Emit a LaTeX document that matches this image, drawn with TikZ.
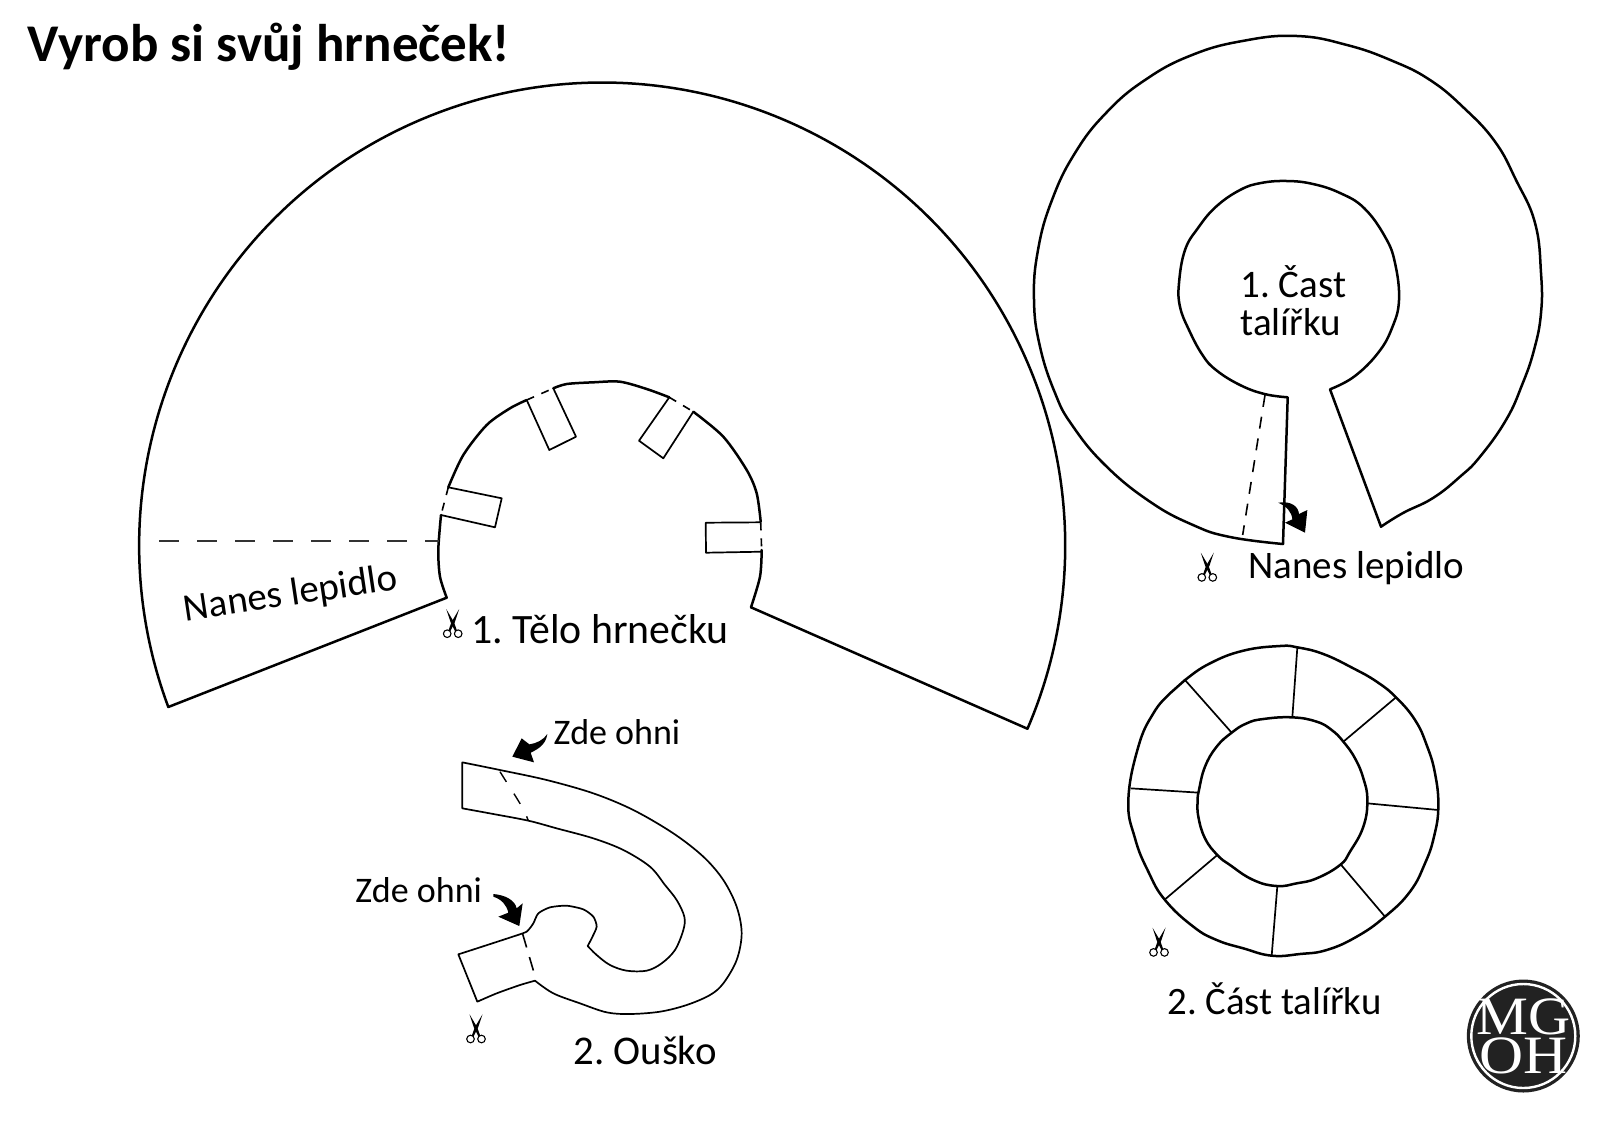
\documentclass[tikz,border=0pt]{standalone}
\usepackage{fontspec}
\usepackage{graphicx}
\setmainfont{Carlito}
\newfontfamily\logofont{Liberation Serif}
\definecolor{logodark}{HTML}{222222}
\frenchspacing
\tikzset{
  outline/.style={line width=1.25pt,line join=round,line cap=round,black},
  thinline/.style={line width=.85pt,line join=round,black},
  earline/.style={line width=.85pt,line join=round,black},
  foldline/.style={line width=.8pt,dash pattern=on 6pt off 5pt,black},
  gapline/.style={line width=.8pt,dash pattern=on 4pt off 4pt,black},
  bigtxt/.style={anchor=base west,inner sep=0pt,font=\fontsize{19.5}{23}\selectfont},
  smalltxt/.style={anchor=base west,inner sep=0pt,font=\fontsize{18}{22}\selectfont},
  zoomed/.style={shift={#1},scale=0.33333},
  scis/.pic={
    \draw[line width=.55pt] (-5.5,-10.7) circle[radius=3.8] (5.5,-10.7) circle[radius=3.8];
    \fill (-4.2,-7.4) -- (-2.4,-8.2) -- (2.2,1) -- (6.5,14) -- (-1.2,1) -- cycle;
    \fill (4.2,-7.4) -- (2.4,-8.2) -- (-2.2,1) -- (-6.5,14) -- (1.2,1) -- cycle;
  }
}
\begin{document}
\begin{tikzpicture}[x=0.5pt,y=0.5pt,yscale=-1]
\useasboundingbox[fill=white] (0,0) rectangle (1600,1131);

\node[anchor=base west,inner sep=0pt,font=\fontsize{26.5}{30}\selectfont\bfseries] (title) at (27.5,61) {Vyrob si svůj hrneček!};

% ---- body of the mug
\draw[outline] (446.7,597.7) -- (168.3,707) arc[start angle=159.6,end angle=383.3,radius=463] -- (751,607.3);
\draw[outline] plot[smooth,tension=.5] coordinates {(446.7,597.7) (440,576.7) (438.3,550) (441,515)};
\draw[outline] plot[smooth,tension=.5] coordinates {(448.3,487.3) (463.3,455) (486.7,425) (510,408.3) (526.7,400)};
\draw[outline] plot[smooth,tension=.5] coordinates {(553.3,388.3) (566.7,384) (593.3,382.3) (620,381.7) (646.7,389) (669.3,397.3)};
\draw[outline] plot[smooth,tension=.5] coordinates {(693.3,411.7) (723.3,436.7) (746.7,470) (756.7,493.3) (760.7,521.7)};
\draw[outline] plot[smooth,tension=.5] coordinates {(761.7,550) (760,576.7) (751,607.3)};
\draw[thinline] (448.3,487.3) -- (501.7,498.3) -- (495,527.3) -- (441,515);
\draw[thinline] (526.7,400) -- (549.3,450) -- (576,436.7) -- (553.3,388.3);
\draw[thinline] (669.3,397.3) -- (639,440.7) -- (663.3,458.3) -- (693.3,411.7);
\draw[thinline] (760.7,522.3) -- (705.7,522.7) -- (706,552.7) -- (761.7,551.7);
\draw[gapline] (448.3,487.3) -- (441,515);
\draw[gapline] (526.7,400) -- (553.3,388.3);
\draw[gapline] (669.3,397.3) -- (693.3,411.7);
\draw[gapline] (760.7,522.3) -- (761.7,551.7);
\draw[line width=.8pt,dash pattern=on 10pt off 9pt,black!80] (159,541) -- (438.5,541);
\node[inner sep=0pt,font=\fontsize{19.5}{23}\selectfont,rotate=8.5] (glue1) at (290.7,595) {Nanes lepidlo};
\node[bigtxt,font=\fontsize{20.9}{24}\selectfont] (body) at (471,643.5) {1. Tělo hrnečku};
\pic at (452.7,623) {scis};

% ---- ear
\begin{scope}[zoomed={(340,710)}]
\draw[earline] (367,157) -- plot[smooth,tension=.55] coordinates {(367,157) (480,180) (620,210) (760,250) (880,300) (1000,370) (1090,440) (1150,510) (1190,590) (1205,670) (1190,750) (1150,820) (1110,855) (1040,885) (960,905) (870,912) (800,907) (720,880) (640,850) (585,812)}
 -- plot[smooth,tension=.4] coordinates {(585,812) (540,825) (470,850) (412,875)}
 -- (355,733)
 -- plot[smooth,tension=.4] coordinates {(355,733) (420,712) (548,670) (565,660) (580,640) (595,610) (630,592) (680,587) (730,598) (760,620) (770,650) (755,685) (743,708)}
 -- plot[smooth,tension=.55] coordinates {(743,708) (770,735) (810,765) (860,782) (920,782) (965,760) (1005,720) (1030,660) (1033,620) (1010,570) (975,525) (930,470) (850,420) (760,385) (650,355) (565,332) (460,312) (367,295)} -- cycle;
\draw[line width=.7pt,dash pattern=on 6pt off 7pt] (480,185) .. controls (520,250) and (550,290) .. (565,332);
\draw[line width=.8pt,dash pattern=on 7pt off 5pt] (548,672) -- (587,805);
\fill (622,72) .. controls (610,90) and (590,100) .. (568,103) -- (545,85) -- (517,140) -- (582,157) -- (572,128) .. controls (600,115) and (618,100) .. (622,72) -- cycle;
\fill (460,552) .. controls (495,555) and (525,570) .. (530,595) -- (548,580) -- (538,648) -- (475,620) -- (505,608) .. controls (500,585) and (485,568) .. (460,560) -- cycle;
\end{scope}
\node[smalltxt] (fold1) at (553.3,744) {Zde ohni};
\node[smalltxt] (fold2) at (355,902.5) {Zde ohni};
\node[bigtxt,font=\fontsize{20.4}{24}\selectfont] (ear) at (573,1064) {2. Ouško};
\pic at (476,1028.3) {scis};

% ---- plate part 1
\draw[outline] (1381,526.7) -- plot[smooth,tension=.75] coordinates {(1381,526.7) (1403,513) (1433,498) (1460,476.7) (1480,456.7) (1506,420) (1522,385) (1534,350) (1541,313) (1541,273) (1535,223) (1516,180) (1495,141.7) (1464,108) (1430,80) (1392,60.7) (1347,45) (1297,36) (1244,40.7) (1192,55) (1145,80) (1106,113) (1075,153) (1052,200) (1038,250) (1034,300) (1040,346.7) (1055,393) (1072,425) (1105,465) (1150,501.7) (1193,525) (1230,537) (1283,544)}
 -- (1287.7,397.3)
 -- plot[smooth,tension=.7] coordinates {(1287.7,397.3) (1264.5,394) (1240,385) (1216,370) (1202.5,355) (1189,330) (1180,306.7) (1179,283) (1185,250) (1198,228) (1216,206.7) (1240,190) (1261,183) (1287,181) (1313,184) (1340,193) (1364,208) (1385,236.7) (1395,263) (1399,300) (1392,328) (1378,353) (1354,376.7) (1330,389.3)} -- cycle;
\begin{scope}[zoomed={(1150,370)}]
\draw[foldline] (345,75) -- (278,495);
\fill (385,398) .. controls (425,392) and (445,410) .. (447,432) -- (472,420) -- (465,488) -- (405,458) -- (427,448) .. controls (425,425) and (410,410) .. (385,398) -- cycle;
\end{scope}
\node[bigtxt] (plate1a) at (1240,297) {1. Čast};
\node[bigtxt] (plate1b) at (1240,335) {talířku};
\node[bigtxt] (glue2) at (1248,578) {Nanes lepidlo};
\pic at (1207.3,566.7) {scis};

% ---- plate part 2
\begin{scope}[zoomed={(1110,630)}]
\draw[outline] plot[smooth cycle,tension=.75] coordinates {(510,48) (562,52) (640,72) (730,115) (800,155) (858,202) (915,270) (950,345) (975,430) (985,530) (972,620) (945,700) (900,785) (825,860) (740,920) (650,960) (570,972) (485,977) (400,955) (320,930) (250,890) (165,810) (115,725) (75,625) (55,510) (85,350) (130,250) (180,190) (225,150) (300,100) (400,62)};
\draw[outline] plot[smooth cycle,tension=.75] coordinates {(547,262) (620,275) (665,300) (700,335) (735,385) (760,445) (772,510) (760,590) (720,665) (690,705) (620,745) (560,760) (500,768) (430,750) (360,705) (322,675) (285,625) (265,560) (263,510) (267,480) (285,410) (320,350) (365,308) (410,280) (460,267)};
\draw[thinline] (562,52) -- (547,262);
\draw[thinline] (858,202) -- (700,335);
\draw[thinline] (985,540) -- (772,520);
\draw[thinline] (825,860) -- (692,703);
\draw[thinline] (485,977) -- (502,768);
\draw[thinline] (165,808) -- (322,675);
\draw[thinline] (62,475) -- (267,488);
\draw[thinline] (225,150) -- (365,308);
\end{scope}
\node[bigtxt,font=\fontsize{19.4}{23}\selectfont] (plate2) at (1167,1014) {2. Část talířku};
\pic at (1159,941.7) {scis};

% ---- logo
\fill[logodark] (1523.3,1036) circle[radius=56.5];
\draw[white,line width=1.2pt] (1523.3,1036) circle[radius=52];
\node[inner sep=0pt,white,align=center,font=\logofont\fontsize{27}{19.5}\selectfont] (logo) at (1523.3,1036) {\scalebox{1.08}[1]{MG}\\\scalebox{1.13}[1]{OH}};
\end{tikzpicture}
\end{document}
